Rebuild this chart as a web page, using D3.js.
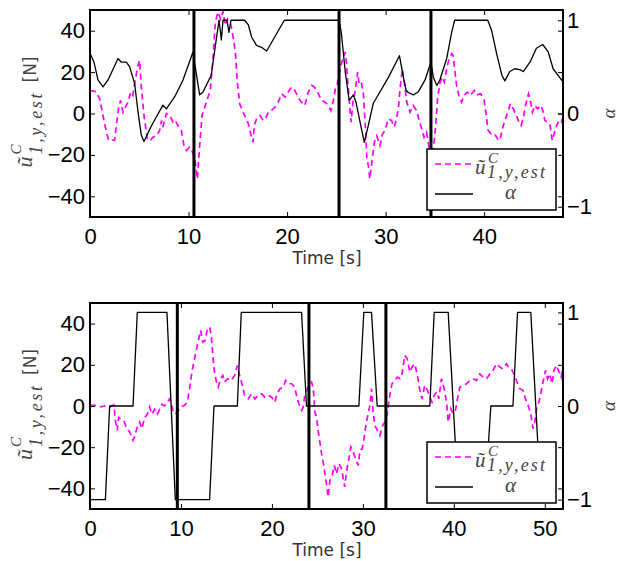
<!DOCTYPE html>
<html>
<head>
<meta charset="utf-8">
<script src="https://cdn.jsdelivr.net/npm/d3@7"></script>
<style>
  body { margin: 0; background: #fff; }
  svg { display: block; }
</style>
</head>
<body>
<script>
// ---- data ----
var forceTicks = [-40, -20, 0, 20, 40];
var alphaTicks = [-1, 0, 1];
var topTimeTicks = [0, 10, 20, 30, 40];
var bottomTimeTicks = [0, 10, 20, 30, 40, 50];

var topSwitch = [10.55, 25.27, 34.6];
var bottomSwitch = [9.6, 24.07, 32.53];

// [time, force]
var topForce = [[0,11.1],[0.6,10.6],[0.98,7.1],[1.32,-1],[1.66,-9],[1.9,-13],[2.2,-12.8],[2.5,-13],[2.67,-5.8],[2.9,2.3],[3.1,6.3],[3.35,0.6],[3.58,3],[3.86,5.5],[4.13,10.3],[4.35,8.7],[4.53,14.4],[4.87,23.2],[5.04,25.7],[5.2,13.6],[5.48,-1],[5.82,-12.3],[6.06,-13.3],[6.4,-11.5],[6.73,-10.8],[7.07,-8.2],[7.25,-3.4],[7.4,-6.5],[7.75,0],[8.1,-0.8],[8.42,-4.2],[8.66,-3.4],[9.0,-6.6],[9.27,-8.2],[9.54,-15.5],[9.78,-17.9],[10.1,-16.3],[10.35,-17.9],[10.69,-23.6],[10.89,-31.6],[11.13,-15.5],[11.37,-1],[11.64,3],[11.97,7.9],[12.2,11.1],[12.48,26.5],[12.72,44.2],[12.99,49],[13.25,45.5],[13.5,49.4],[13.7,42.6],[13.95,45.6],[14.27,43.4],[14.5,37.8],[14.75,29.7],[14.95,15.2],[15.19,4.7],[15.53,0.6],[15.86,-2.6],[16.07,-5],[16.4,-11.5],[16.55,-13.9],[16.67,-5.8],[16.9,-2.6],[17.25,-1],[17.6,-3.4],[17.8,-2.6],[18.1,0.6],[18.4,1.4],[18.77,3.1],[19.1,5.5],[19.45,9.5],[19.8,7.9],[20.1,10.3],[20.45,12.7],[20.8,11.1],[21.1,7.9],[21.45,5.5],[21.8,3.9],[22.15,10.3],[22.5,13.6],[22.8,12.7],[23.17,9.5],[23.5,6.3],[23.85,5.5],[24.2,3.9],[24.45,1.4],[24.7,6.3],[24.9,12],[25.1,14.4],[25.5,24],[25.9,29.7],[26.0,25.7],[26.2,12.7],[26.5,-4.2],[26.72,7.1],[26.9,10.3],[27.16,20],[27.33,13.6],[27.56,14.4],[27.73,10.3],[27.98,-9],[28.1,-22],[28.25,-25.2],[28.4,-31.6],[28.6,-23.6],[28.86,-13.9],[29.1,-10.8],[29.43,-15.5],[29.67,-10],[29.94,-8.2],[30.27,-2.6],[30.6,-3.4],[30.88,-6.5],[31.1,-2.6],[31.29,2.3],[31.5,13.6],[31.7,21.6],[31.97,12.7],[32.14,5.5],[32.48,0.6],[32.8,3.9],[33.15,1.4],[33.4,-3.4],[33.66,-7.4],[33.9,-11.5],[34.16,-9],[34.4,-16.3],[34.6,-18.7],[34.84,-17.3],[35.08,-5.8],[35.27,7.1],[35.5,14.4],[35.74,17.6],[35.95,15.2],[36.2,21.6],[36.4,25.7],[36.7,28.9],[36.85,28],[37.0,21.6],[37.2,13.6],[37.43,8.7],[37.7,5.5],[37.95,8.7],[38.3,10.3],[38.6,8.7],[39.0,11.1],[39.3,9],[39.65,9.5],[40.0,6.3],[40.17,0.6],[40.4,-8.2],[40.7,-9.8],[41.03,-9.8],[41.37,-12.3],[41.6,-13],[41.85,-7.4],[42.1,-3.4],[42.4,0.6],[42.65,4.7],[42.95,2.3],[43.25,-0.8],[43.47,-3.4],[43.75,-5.8],[44.0,-1.8],[44.2,3.9],[44.5,9.5],[44.65,7.1],[44.9,0.6],[45.15,3.9],[45.4,2.3],[45.77,3.9],[46.0,0.6],[46.16,-3.4],[46.45,-4.2],[46.7,-5.8],[46.9,-13],[47.1,-9.8],[47.35,-5.8],[47.6,-3.4],[47.83,-4.2],[48,-1.8]];

// [time, alpha]
var topAlpha = [[0,0.65],[0.4,0.55],[0.81,0.36],[1.32,0.285],[1.83,0.36],[2.84,0.59],[3.18,0.55],[3.69,0.55],[4.03,0.5],[4.53,0.32],[4.87,0.02],[5.2,-0.23],[5.48,-0.3],[6.2,-0.14],[7.4,0.09],[7.75,0.05],[8.6,0.18],[9.44,0.36],[10.45,0.66],[10.6,0.55],[11.13,0.2],[11.47,0.23],[12.3,0.41],[12.82,0.8],[13.1,1],[13.33,0.79],[13.5,1],[13.9,1],[14.1,0.87],[14.3,1],[15.7,1],[16.07,0.95],[16.4,0.82],[16.9,0.73],[17.4,0.71],[17.93,0.67],[19.72,1],[25.27,1],[25.5,0.87],[25.9,0.45],[26.3,0.14],[26.72,0.2],[27.0,0.12],[27.4,-0.09],[27.84,-0.31],[28.25,-0.125],[28.75,0.11],[30.3,0.39],[31.4,0.62],[31.8,0.39],[32.07,0.25],[32.3,0.225],[32.8,0.2],[33.3,0.23],[34.0,0.36],[34.5,0.52],[34.6,0.55],[34.84,0.39],[35.2,0.3],[35.5,0.36],[36.2,0.59],[36.7,0.87],[37.0,1],[40.36,1],[40.76,0.89],[41.27,0.64],[41.8,0.41],[42.1,0.35],[42.6,0.45],[43.1,0.48],[43.6,0.47],[43.97,0.45],[44.65,0.55],[45.3,0.7],[45.94,0.74],[46.5,0.66],[47.0,0.48],[47.5,0.41],[48,0.34]];

var bottomForce = [[0,0.3],[0.55,0.3],[1.06,-0.5],[1.6,0],[2.16,-0.5],[2.64,0.6],[2.78,-7],[2.99,-11.8],[3.15,-5.6],[3.44,-6.5],[3.73,-7.3],[3.99,-10.2],[4.35,-12.6],[4.73,-16.7],[4.9,-15],[5.2,-10.2],[5.45,-7.8],[5.7,-11],[6.0,-5.6],[6.3,-4],[6.56,-0.5],[6.8,-4],[7.1,-1.6],[7.4,-4],[7.66,-1.6],[7.9,0.8],[8.2,0],[8.5,1.6],[8.75,3.5],[8.93,1.6],[9.12,-2.4],[9.38,-4],[9.67,-2.4],[10.0,-0.5],[10.4,0.3],[10.7,1.9],[10.95,8.4],[11.2,16.5],[11.5,23],[11.87,31],[12.16,36.7],[12.4,31],[12.67,31.8],[12.9,37.5],[13.15,38.3],[13.33,34.3],[13.63,18.1],[13.9,11.6],[14.1,9.2],[14.35,13.2],[14.6,14.8],[14.8,11.6],[15.1,13.2],[15.53,12.4],[15.9,14.8],[16.2,19.7],[16.4,15.6],[16.65,11.6],[17.0,5.2],[17.4,3.5],[17.77,5.9],[18.13,3.5],[18.5,5.2],[18.87,5.9],[19.2,4.3],[19.6,5.2],[19.96,4.3],[20.33,1.9],[20.5,5.2],[20.88,8.4],[21.25,9.2],[21.5,12.4],[21.8,10.8],[22.16,10.8],[22.5,9.2],[22.7,5.2],[22.96,1.1],[23.26,-2.1],[23.44,-0.5],[23.63,5.9],[23.8,7.6],[24.07,10],[24.36,11.6],[24.55,8.4],[24.72,-2.9],[24.9,-5.3],[25.1,-12.6],[25.27,-17.5],[25.46,-23.2],[25.64,-27.2],[25.8,-32],[25.99,-37.7],[26.19,-44.2],[26.37,-36.1],[26.63,-33.7],[26.85,-28.8],[27.1,-32.9],[27.36,-28],[27.66,-30.4],[27.84,-35.3],[28.0,-39.3],[28.2,-32],[28.46,-25.6],[28.68,-19.9],[28.94,-22.4],[29.2,-25.6],[29.49,-28.8],[29.67,-21.5],[29.93,-20.7],[30.15,-15],[30.3,-10.2],[30.5,-5.3],[30.77,0.3],[30.95,8.4],[31.1,-1.3],[31.3,-9.4],[31.6,-11.8],[31.87,-14.3],[32.1,-10.2],[32.4,-7.8],[32.7,-2.9],[32.96,5.2],[33.2,10.8],[33.5,12.4],[33.8,14],[34.07,13.2],[34.3,15.6],[34.6,24.6],[34.87,23],[35.16,16.5],[35.4,18.9],[35.7,20.5],[36.0,14.8],[36.26,7.6],[36.5,3.5],[36.8,10],[37.1,7.6],[37.36,4.3],[37.6,1.9],[37.84,5.2],[38.1,6.8],[38.35,3.5],[38.64,13.2],[38.93,8.4],[39.2,1.9],[39.38,-7.8],[39.67,-1.3],[39.9,-3.7],[40.18,-2.1],[40.4,3.5],[40.66,9.2],[41.0,10],[41.4,10.8],[41.76,12.4],[42.1,13.2],[42.5,12.4],[42.86,15.6],[43.2,14],[43.6,13.2],[43.96,15.6],[44.3,17.3],[44.7,20.5],[45.05,18.9],[45.4,18.1],[45.79,20.5],[46.0,18.9],[46.3,18.1],[46.7,14.8],[46.95,11.6],[47.25,8.4],[47.6,7.6],[47.87,3.5],[48.17,0.3],[48.46,-3.7],[48.7,-11],[48.9,-7.8],[49.1,-1.3],[49.35,1.9],[49.56,6],[49.8,11.6],[50.08,17.3],[50.3,13.2],[50.55,15.6],[50.8,10.8],[51.0,17.3],[51.28,19.7],[51.5,17.3],[51.8,14],[52,20.5]];

var bottomAlpha = [[0,-1],[1.69,-1],[2.16,0],[4.73,0],[5.2,1],[8.46,1],[9.38,-1],[13.15,-1],[13.63,0],[16.2,0],[16.63,1],[23.26,1],[23.8,0],[29.56,0],[30.1,1],[30.95,1],[31.57,0],[37.36,0],[37.84,1],[39.38,1],[40.5,-1],[43.4,-1],[44.07,0],[46.5,0],[47.0,1],[48.46,1],[49.56,-1],[51,-1]];

// ---- layout ----
var W = 629, H = 561;
var left = 90, right = 563;
var magenta = "#ff00ff";
var labelGray = "#444";
var sansFont = "'Liberation Sans', Arial, sans-serif";
var serifFont = "'Liberation Serif', 'Times New Roman', serif";

var svg = d3.select("body").append("svg")
  .attr("width", W)
  .attr("height", H)
  .style("font-family", sansFont);

var panels = [
  { id: "top", top: 10, bottom: 217, xMax: 48, alphaDomain: [-1.11, 1.11],
    force: topForce, alpha: topAlpha, switches: topSwitch, xTicks: topTimeTicks },
  { id: "bot", top: 303, bottom: 509, xMax: 52, alphaDomain: [-1.1, 1.1],
    force: bottomForce, alpha: bottomAlpha, switches: bottomSwitch, xTicks: bottomTimeTicks }
];

panels.forEach(drawPanel);

function drawPanel(p) {
  var g = svg.append("g").attr("class", "panel-" + p.id);

  var x = d3.scaleLinear().domain([0, p.xMax]).range([left, right]);
  var yF = d3.scaleLinear().domain([-50, 50]).range([p.bottom, p.top]);
  var yA = d3.scaleLinear().domain(p.alphaDomain).range([p.bottom, p.top]);

  g.append("clipPath").attr("id", "clip-" + p.id)
    .append("rect")
    .attr("x", left).attr("y", p.top)
    .attr("width", right - left).attr("height", p.bottom - p.top);

  var plot = g.append("g").attr("clip-path", "url(#clip-" + p.id + ")");

  var forceLine = d3.line()
    .x(function (d) { return x(d[0]); })
    .y(function (d) { return yF(d[1]); });
  var alphaLine = d3.line()
    .x(function (d) { return x(d[0]); })
    .y(function (d) { return yA(d[1]); });

  plot.append("path")
    .datum(p.force)
    .attr("d", forceLine)
    .attr("fill", "none")
    .attr("stroke", magenta)
    .attr("stroke-width", 1.7)
    .attr("stroke-dasharray", "6,4");

  plot.append("path")
    .datum(p.alpha)
    .attr("d", alphaLine)
    .attr("fill", "none")
    .attr("stroke", "#000")
    .attr("stroke-width", 1.3)
    .attr("stroke-linejoin", "round");

  // switching instants
  plot.selectAll(".switch")
    .data(p.switches)
    .enter().append("line")
    .attr("class", "switch")
    .attr("x1", function (d) { return x(d); })
    .attr("x2", function (d) { return x(d); })
    .attr("y1", p.top)
    .attr("y2", p.bottom)
    .attr("stroke", "#000")
    .attr("stroke-width", 3);

  // axes (ticks pointing inward, like matlab)
  var ax = g.append("g");

  ax.append("g")
    .attr("transform", "translate(0," + p.bottom + ")")
    .call(d3.axisBottom(x).tickValues(p.xTicks).tickSize(-5).tickSizeOuter(0).tickPadding(11));
  ax.append("g")
    .attr("transform", "translate(0," + p.top + ")")
    .call(d3.axisTop(x).tickValues(p.xTicks).tickSize(-5).tickSizeOuter(0).tickFormat(""));
  ax.append("g")
    .attr("transform", "translate(" + left + ",0)")
    .call(d3.axisLeft(yF).tickValues(forceTicks).tickSize(-5).tickSizeOuter(0).tickPadding(5));
  ax.append("g")
    .attr("transform", "translate(" + right + ",0)")
    .call(d3.axisRight(yF).tickValues(forceTicks).tickSize(-5).tickSizeOuter(0).tickFormat(""));
  ax.append("g")
    .attr("transform", "translate(" + right + ",0)")
    .call(d3.axisRight(yA).tickValues(alphaTicks).tickSize(-5).tickSizeOuter(0).tickPadding(4)
      .tickFormat(d3.format("d")));

  ax.selectAll(".domain").remove();
  ax.selectAll(".tick line").attr("stroke", "#000").attr("stroke-width", 1);
  ax.selectAll(".tick text")
    .attr("fill", "#000")
    .style("font-family", sansFont)
    .style("font-size", "22px");

  g.append("rect")
    .attr("x", left).attr("y", p.top)
    .attr("width", right - left).attr("height", p.bottom - p.top)
    .attr("fill", "none")
    .attr("stroke", "#000")
    .attr("stroke-width", 2);

  // x label
  g.append("text")
    .attr("x", 327)
    .attr("y", p.bottom + 47)
    .attr("text-anchor", "middle")
    .style("font-family", "'DejaVu Sans', sans-serif")
    .style("font-size", "17px")
    .attr("fill", "#333")
    .text("Time [s]");

  // left y label (u~^C_{1,y,est} [N]), rotated: local a = up the page, b = to the right
  var mid = (p.top + p.bottom) / 2;
  var yl = g.append("g")
    .attr("transform", "translate(0," + mid + ") rotate(-90)")
    .attr("fill", labelGray)
    .style("font-family", serifFont)
    .style("font-style", "italic");
  yl.append("text").attr("x", -54).attr("y", 32).style("font-size", "22px").text("ũ");
  yl.append("text").attr("x", -41).attr("y", 21).style("font-size", "15px").text("C");
  yl.append("text").attr("x", -41).attr("y", 42).style("font-size", "18px")
    .attr("textLength", 61).attr("lengthAdjust", "spacing").text("1,y,est");
  yl.append("text").attr("x", 31).attr("y", 36)
    .style("font-family", "'DejaVu Sans', sans-serif")
    .style("font-style", "normal")
    .style("font-size", "17px")
    .text("[N]");

  // right y label
  g.append("text")
    .attr("transform", "translate(615," + mid + ") rotate(-90)")
    .attr("text-anchor", "middle")
    .style("font-family", serifFont)
    .style("font-style", "italic")
    .style("font-size", "19px")
    .attr("fill", labelGray)
    .text("α");

  // legend
  var lx = 427, ly = p.top + 139, lw = 129, lh = 61;
  var leg = g.append("g");
  leg.append("rect")
    .attr("x", lx).attr("y", ly).attr("width", lw).attr("height", lh)
    .attr("fill", "#fff").attr("stroke", "#000").attr("stroke-width", 1.5);
  leg.append("line")
    .attr("x1", lx + 8).attr("x2", lx + 48)
    .attr("y1", ly + 15).attr("y2", ly + 15)
    .attr("stroke", magenta).attr("stroke-width", 1.7).attr("stroke-dasharray", "6,4");
  leg.append("line")
    .attr("x1", lx + 8).attr("x2", lx + 46)
    .attr("y1", ly + 45).attr("y2", ly + 45)
    .attr("stroke", "#000").attr("stroke-width", 1.3);
  var lt = leg.append("g")
    .attr("fill", labelGray)
    .style("font-family", serifFont)
    .style("font-style", "italic");
  lt.append("text").attr("x", lx + 48).attr("y", ly + 25).style("font-size", "21px").text("ũ");
  lt.append("text").attr("x", lx + 61).attr("y", ly + 14).style("font-size", "15px").text("C");
  lt.append("text").attr("x", lx + 60).attr("y", ly + 29).style("font-size", "18px")
    .attr("textLength", 58).attr("lengthAdjust", "spacing").text("1,y,est");
  lt.append("text").attr("x", lx + 78).attr("y", ly + 50).style("font-size", "21px").text("α");
}
</script>
</body>
</html>
